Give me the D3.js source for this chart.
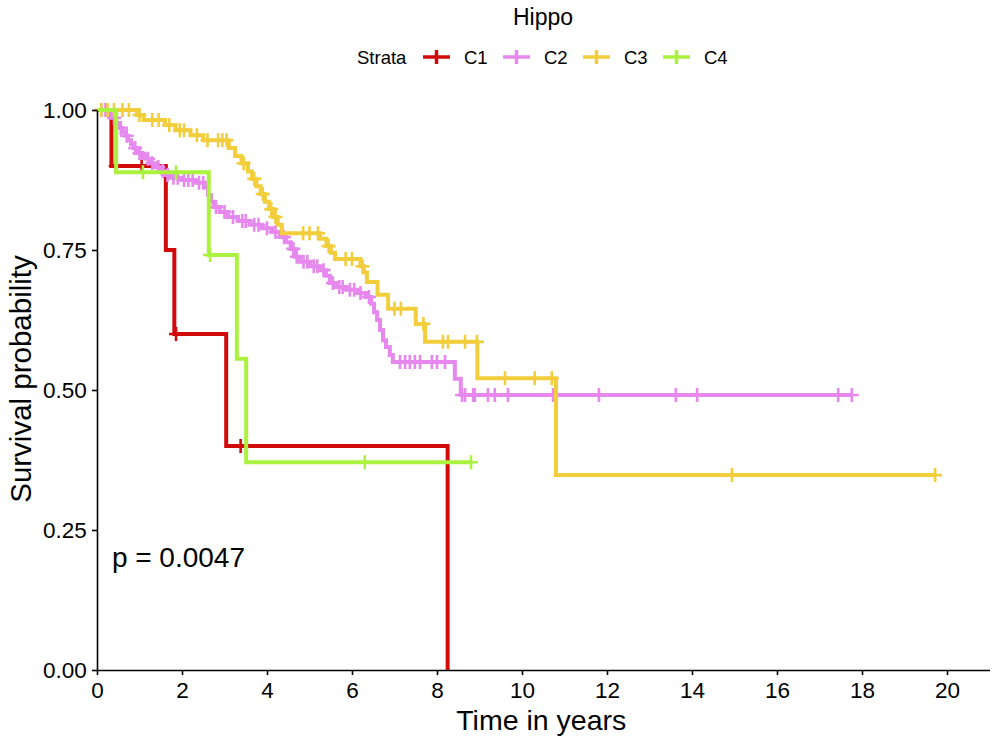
<!DOCTYPE html>
<html>
<head>
<meta charset="utf-8">
<script src="https://cdn.jsdelivr.net/npm/d3@7"></script>
<style>
  html, body { margin: 0; padding: 0; background: #ffffff; }
  svg { display: block; font-family: "Liberation Sans", Arial, Helvetica, sans-serif; }
</style>
</head>
<body>
<svg id="chart" width="995" height="742"></svg>
<script>
// ---------------- DATA ----------------
const chartTitle = "Hippo";
const legendTitle = "Strata";
const strata = ["C1", "C2", "C3", "C4"];
const strataColors = ["#D10A0A", "#E688EE", "#F2CD3C", "#AAF23E"];
const xTicks = [0, 2, 4, 6, 8, 10, 12, 14, 16, 18, 20];
const yTicks = [0, 0.25, 0.5, 0.75, 1];
const xLabel = "Time in years";
const yLabel = "Survival probability";
const pText = "p = 0.0047";

// C1 (event times, survival after event, censor times)
const c1Times = [0.34, 1.62, 1.82, 3.04, 8.25];
const c1Surv  = [0.90, 0.75, 0.60, 0.40, 0.00];
const c1Censor = [0.44, 1.05, 1.86, 3.38];

// C2
const c2Times = [0.26, 0.35, 0.45, 0.52, 0.59, 0.66, 0.73, 0.80, 0.87, 0.96, 1.06, 1.15, 1.25, 1.36, 1.48, 1.60, 1.72,
                 2.00, 2.31, 2.54, 2.61, 2.68, 2.75, 2.89, 3.08, 3.32, 3.60, 3.88, 4.12, 4.31, 4.45, 4.56, 4.66, 4.78,
                 5.01, 5.25, 5.39, 5.48, 5.62, 5.86, 6.12, 6.33, 6.45, 6.52, 6.59, 6.66, 6.73, 6.80, 6.89, 6.96, 8.42, 8.56];
const c2Surv  = [0.995, 0.986, 0.977, 0.968, 0.961, 0.954, 0.946, 0.939, 0.932, 0.923, 0.918, 0.913, 0.905, 0.898, 0.891, 0.884, 0.879,
                 0.875, 0.870, 0.862, 0.848, 0.836, 0.827, 0.818, 0.809, 0.802, 0.795, 0.789, 0.782, 0.773, 0.764, 0.752, 0.738, 0.729,
                 0.721, 0.714, 0.704, 0.691, 0.684, 0.679, 0.673, 0.666, 0.654, 0.639, 0.625, 0.607, 0.589, 0.577, 0.5625, 0.550, 0.520, 0.491];
const c2Censor = [0.10, 0.20, 0.40, 0.56, 0.70, 0.90, 1.00, 1.20, 1.30, 1.44, 1.55, 1.66, 1.80, 1.90, 2.05, 2.15, 2.25, 2.40,
                  2.50, 2.80, 3.00, 3.20, 3.42, 3.50, 3.70, 3.80, 4.00, 4.20, 4.40, 4.62, 4.70, 4.86, 4.95, 5.10, 5.18, 5.33,
                  5.55, 5.70, 5.78, 5.95, 6.05, 6.20, 6.40, 7.13, 7.25, 7.36, 7.48, 7.60, 7.88, 8.00, 8.19, 8.59, 8.66, 8.85,
                  8.89, 9.20, 9.36, 9.67, 10.73, 11.81, 13.62, 14.12, 17.44, 17.76];

// C3
const c3Times = [0.94, 1.10, 1.60, 1.85, 2.20, 2.50, 3.10, 3.25, 3.40, 3.55, 3.65, 3.75, 3.85, 3.95, 4.05, 4.15, 4.25, 4.35,
                 5.25, 5.40, 5.50, 5.60, 6.20, 6.28, 6.35, 6.60, 6.85, 7.50, 7.72, 8.95, 10.80];
const c3Surv  = [0.991, 0.982, 0.973, 0.964, 0.955, 0.946, 0.932, 0.918, 0.905, 0.890, 0.877, 0.864, 0.850, 0.836, 0.823, 0.809, 0.795, 0.780,
                 0.770, 0.757, 0.745, 0.734, 0.721, 0.710, 0.693, 0.670, 0.645, 0.618, 0.586, 0.521, 0.348];
const c3Censor = [0.10, 0.25, 0.40, 0.60, 0.75, 1.00, 1.30, 1.45, 1.70, 1.95, 2.05, 2.35, 2.60, 2.85, 2.95, 3.05, 3.45, 3.70,
                  3.90, 4.10, 4.20, 4.85, 5.00, 5.20, 5.45, 5.85, 6.00, 6.25, 7.00, 7.15, 7.68, 8.14, 8.26, 8.66, 8.94,
                  9.60, 10.30, 10.70, 14.94, 19.72];

// C4
const c4Times = [0.45, 2.63, 3.29, 3.51];
const c4Surv  = [0.889, 0.741, 0.556, 0.371];
const c4Censor = [1.08, 1.86, 2.66, 6.30, 8.80];

// ---------------- CHART ----------------
const groups = [
  { name: strata[0], color: strataColors[0], times: c1Times, surv: c1Surv, censor: c1Censor },
  { name: strata[1], color: strataColors[1], times: c2Times, surv: c2Surv, censor: c2Censor },
  { name: strata[2], color: strataColors[2], times: c3Times, surv: c3Surv, censor: c3Censor },
  { name: strata[3], color: strataColors[3], times: c4Times, surv: c4Surv, censor: c4Censor }
];

const svg = d3.select("#chart");
const mLeft = 97, mRight = 989.5, mTop = 110, mBottom = 670;
const x = d3.scaleLinear().domain([0, 21]).range([mLeft, mRight]);
const y = d3.scaleLinear().domain([0, 1]).range([mBottom, mTop]);

function survAt(g, t) {
  let s = 1;
  for (let i = 0; i < g.times.length; i++) { if (g.times[i] <= t) s = g.surv[i]; }
  return s;
}

const line = d3.line().x(d => x(d[0])).y(d => y(d[1])).curve(d3.curveStepAfter);
const lineW = 4;

groups.forEach(g => {
  const pts = [[0, 1]];
  g.times.forEach((t, i) => pts.push([t, g.surv[i]]));
  const lastT = Math.max(d3.max(g.times), d3.max(g.censor));
  if (lastT > d3.max(g.times)) pts.push([lastT, g.surv[g.surv.length - 1]]);
  svg.append("path").datum(pts)
    .attr("d", line)
    .attr("fill", "none")
    .attr("stroke", g.color)
    .attr("stroke-width", lineW)
    .attr("stroke-linejoin", "miter")
    .attr("stroke-linecap", "butt");
  const cs = 7;
  svg.append("g").selectAll("path").data(g.censor).join("path")
    .attr("d", c => {
      const cx = x(c), cy = y(survAt(g, c));
      return `M${cx - cs},${cy}H${cx + cs}M${cx},${cy - cs}V${cy + cs}`;
    })
    .attr("stroke", g.color)
    .attr("stroke-width", 2.6)
    .attr("fill", "none");
});

// Axes
const xAxis = svg.append("g").attr("transform", `translate(0,${mBottom})`)
  .call(d3.axisBottom(x).tickValues(xTicks).tickSize(5).tickSizeOuter(0).tickFormat(d3.format("d")));
const yAxis = svg.append("g").attr("transform", `translate(${mLeft},0)`)
  .call(d3.axisLeft(y).tickValues(yTicks).tickSize(5).tickSizeOuter(0).tickFormat(d3.format(".2f")));
[xAxis, yAxis].forEach(a => {
  a.select(".domain").attr("stroke", "#000").attr("stroke-width", 1.6);
  a.selectAll(".tick line").attr("stroke", "#000").attr("stroke-width", 1.6);
  a.selectAll(".tick text").attr("fill", "#000").attr("font-size", 22.5)
    .attr("font-family", "'Liberation Sans', Arial, sans-serif");
});
xAxis.selectAll(".tick text").attr("dy", "0.9em");
yAxis.selectAll(".tick text").attr("dx", "-0.1em");

// Axis titles
svg.append("text").attr("x", (mLeft + mRight) / 2 - 2).attr("y", 730)
  .attr("text-anchor", "middle").attr("font-size", 28.5).attr("fill", "#000").text(xLabel);
svg.append("text").attr("transform", `translate(31,379) rotate(-90)`)
  .attr("text-anchor", "middle").attr("font-size", 29.5).attr("fill", "#000").text(yLabel);

// p-value
svg.append("text").attr("x", x(0.35)).attr("y", 567)
  .attr("font-size", 28).attr("fill", "#000").text(pText);

// Title
svg.append("text").attr("x", 543).attr("y", 25)
  .attr("text-anchor", "middle").attr("font-size", 23).attr("fill", "#000").text(chartTitle);

// Legend
const legY = 57;
svg.append("text").attr("x", 357).attr("y", legY + 7)
  .attr("font-size", 18.5).attr("fill", "#000").text(legendTitle);
const legX = [423, 503, 583, 663];
groups.forEach((g, i) => {
  const lx = legX[i];
  svg.append("path")
    .attr("d", `M${lx},${legY}H${lx + 27}M${lx + 13.5},${legY - 7}V${legY + 7}`)
    .attr("stroke", g.color).attr("stroke-width", 3.5).attr("fill", "none");
  svg.append("text").attr("x", lx + 41).attr("y", legY + 7)
    .attr("font-size", 18.5).attr("fill", "#000").text(g.name);
});
</script>
</body>
</html>
